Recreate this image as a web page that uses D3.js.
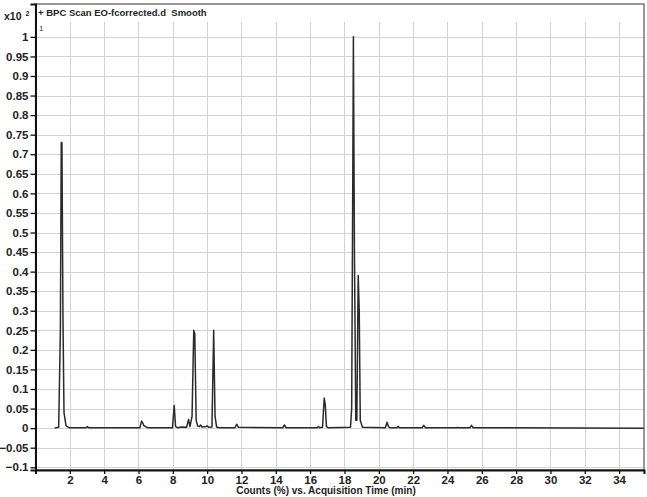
<!DOCTYPE html>
<html>
<head>
<meta charset="utf-8">
<script src="https://cdn.jsdelivr.net/npm/d3@7"></script>
<style>
  html, body { margin: 0; padding: 0; background: #fff; }
  svg { display: block; font-family: "Liberation Sans", Arial, sans-serif; }
  .grid line { stroke: #d2d2d2; stroke-width: 1; }
  .tick-label { font-size: 11.5px; font-weight: bold; fill: #222; }
</style>
</head>
<body>
<div id="chart"></div>
<script>
/*
 * Chromatogram data (time in min, counts x10^2)
 */
var traceTime = [
  1.10, 1.35, 1.45, 1.50, 1.54, 1.60, 1.66, 1.78, 1.95,
  2.95, 3.02, 3.10,
  6.08, 6.18, 6.26, 6.32, 6.42, 6.52,
  7.98, 8.08, 8.16, 8.30,
  8.50, 8.80, 8.92, 9.00, 9.12, 9.22, 9.28, 9.36, 9.45, 9.55, 9.62, 9.70, 9.95, 10.00, 10.10,
  10.28, 10.38, 10.46, 10.55, 10.70,
  11.62, 11.72, 11.82,
  14.40, 14.50, 14.60,
  16.40, 16.48, 16.55, 16.72, 16.82, 16.88, 16.95, 17.05,
  18.35, 18.42, 18.48, 18.52, 18.58, 18.66, 18.72, 18.80, 18.86, 18.92, 19.05,
  20.38, 20.48, 20.56, 20.65,
  21.05, 21.12, 21.20,
  22.52, 22.62, 22.72,
  24.55, 24.60, 24.65,
  25.30, 25.40, 25.50,
  35.45
];
var traceCounts = [
  0, 0.002, 0.25, 0.73, 0.73, 0.28, 0.04, 0.006, 0.001,
  0.001, 0.004, 0.001,
  0.001, 0.018, 0.012, 0.006, 0.004, 0.001,
  0.001, 0.058, 0.004, 0.001,
  0.003, 0.002, 0.022, 0.004, 0.03, 0.25, 0.24, 0.02, 0.005, 0.004, 0.008, 0.003, 0.004, 0.006, 0.002,
  0.003, 0.25, 0.03, 0.003, 0.001,
  0.001, 0.01, 0.002,
  0.001, 0.008, 0.001,
  0.001, 0.004, 0.001, 0.002, 0.077, 0.06, 0.004, 0.001,
  0.002, 0.05, 0.6, 1.0, 0.45, 0.02, 0.02, 0.39, 0.3, 0.02, 0.002,
  0.001, 0.015, 0.004, 0.001,
  0.001, 0.005, 0.001,
  0.001, 0.007, 0.001,
  0.001, 0.002, 0.001,
  0.001, 0.007, 0.001,
  0
];
var xTicks = [0, 2, 4, 6, 8, 10, 12, 14, 16, 18, 20, 22, 24, 26, 28, 30, 32, 34];
var yTicks = [-0.1, -0.05, 0, 0.05, 0.1, 0.15, 0.2, 0.25, 0.3, 0.35, 0.4, 0.45, 0.5,
  0.55, 0.6, 0.65, 0.7, 0.75, 0.8, 0.85, 0.9, 0.95, 1];
var titleText = '+ BPC Scan EO-fcorrected.d  Smooth';
var xTitleText = 'Counts (%) vs. Acquisition Time (min)';

(function() {
  var width = 647;
  var height = 497;
  var margin = { top: 4, right: 3, bottom: 27, left: 35.5 };

  var svg = d3.select('#chart').append('svg')
    .attr('width', width)
    .attr('height', height);

  var x = d3.scaleLinear().domain([0, 35.45]).range([margin.left, width - margin.right]);
  var y = d3.scaleLinear().domain([-0.107, 1.084]).range([height - margin.bottom, margin.top]);

  var fmt = function(d) {
    return d3.format('~g')(+d.toFixed(2));
  };

  /*
   * Grid
   */
  var grid = svg.append('g').attr('class', 'grid');
  grid.selectAll('.hline')
    .data(yTicks)
    .enter().append('line')
    .attr('x1', x.range()[0])
    .attr('x2', x.range()[1])
    .attr('y1', function(d) { return Math.round(y(d)) + 0.5; })
    .attr('y2', function(d) { return Math.round(y(d)) + 0.5; });
  grid.selectAll('.vline')
    .data(xTicks.slice(1))
    .enter().append('line')
    .attr('x1', function(d) { return Math.round(x(d)) + 0.5; })
    .attr('x2', function(d) { return Math.round(x(d)) + 0.5; })
    .attr('y1', 22)
    .attr('y2', y.range()[0]);

  /*
   * Trace
   */
  var points = traceTime.map(function(t, i) { return [t, traceCounts[i]]; });
  var line = d3.line()
    .x(function(d) { return x(d[0]); })
    .y(function(d) { return y(d[1]); });
  svg.append('path')
    .datum(points)
    .attr('d', line)
    .attr('fill', 'none')
    .attr('stroke', '#2a2a2a')
    .attr('stroke-width', 1.5)
    .attr('stroke-linejoin', 'round');

  /*
   * Frame
   */
  svg.append('rect')
    .attr('x', x.range()[0])
    .attr('y', y.range()[1])
    .attr('width', x.range()[1] - x.range()[0])
    .attr('height', y.range()[0] - y.range()[1])
    .attr('fill', 'none')
    .attr('stroke', '#555')
    .attr('stroke-width', 1.2);

  /*
   * Axes
   */
  var yAxis = svg.append('g')
    .attr('transform', 'translate(' + x.range()[0] + ',0)')
    .call(d3.axisLeft(y).tickValues(yTicks).tickFormat(fmt).tickSize(5).tickPadding(2));
  var xAxis = svg.append('g')
    .attr('transform', 'translate(0,' + y.range()[0] + ')')
    .call(d3.axisBottom(x).tickValues(xTicks).tickFormat(function(d) { return d === 0 ? '' : d; }).tickSize(4).tickPadding(2));

  [xAxis, yAxis].forEach(function(ax) {
    ax.select('.domain').attr('stroke', '#111').attr('stroke-width', 2);
    ax.selectAll('.tick line').attr('stroke', '#111').attr('stroke-width', 1.3);
    ax.selectAll('.tick text')
      .attr('class', 'tick-label')
      .attr('font-family', null)
      .attr('font-size', null);
  });

  /*
   * Texts
   */
  svg.append('text')
    .attr('x', 38)
    .attr('y', 16)
    .attr('font-size', 9.5)
    .attr('font-weight', 'bold')
    .attr('fill', '#222')
    .style('white-space', 'pre')
    .text(titleText);

  svg.append('text')
    .attr('x', 39)
    .attr('y', 31)
    .attr('font-size', 8)
    .attr('fill', '#333')
    .text('1');

  var expo = svg.append('text')
    .attr('x', 4)
    .attr('y', 20)
    .attr('font-size', 10.5)
    .attr('font-weight', 'bold')
    .attr('fill', '#222');
  expo.append('tspan').text('x10');
  expo.append('tspan').attr('dx', 4).attr('dy', -4).attr('font-size', 7).text('2');

  svg.append('text')
    .attr('x', 326)
    .attr('y', 494)
    .attr('text-anchor', 'middle')
    .attr('font-size', 10)
    .attr('font-weight', 'bold')
    .attr('fill', '#222')
    .text(xTitleText);
})();
</script>
</body>
</html>
